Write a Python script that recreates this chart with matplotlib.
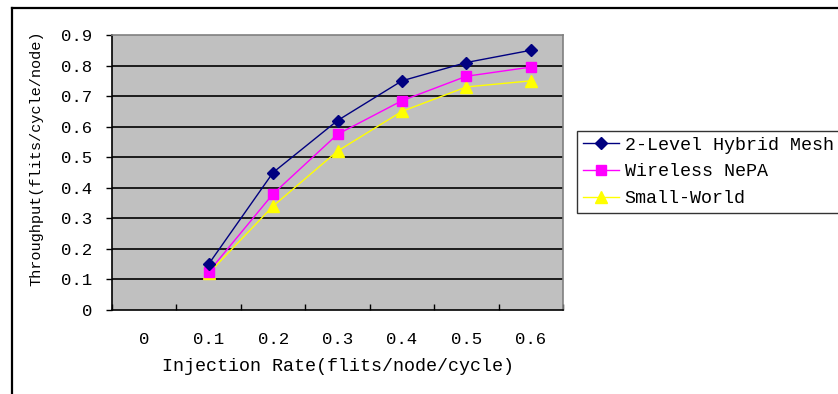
import matplotlib
matplotlib.use("Agg")
import matplotlib.pyplot as plt
from matplotlib.lines import Line2D

categories = ["0", "0.1", "0.2", "0.3", "0.4", "0.5", "0.6"]
x_points = [1, 2, 3, 4, 5, 6]
hybrid_mesh = [0.15, 0.45, 0.62, 0.75, 0.81, 0.85]
wireless_nepa = [0.125, 0.38, 0.575, 0.685, 0.765, 0.795]
small_world = [0.12, 0.34, 0.52, 0.65, 0.73, 0.75]
y_ticks = [0, 0.1, 0.2, 0.3, 0.4, 0.5, 0.6, 0.7, 0.8, 0.9]
y_labels = ["0", "0.1", "0.2", "0.3", "0.4", "0.5", "0.6", "0.7", "0.8", "0.9"]

W, H = 838, 394
fig = plt.figure(figsize=(W / 100, H / 100), dpi=100)
fig.patch.set_facecolor("white")
font = "Liberation Mono"

ax = fig.add_axes([112 / W, 1 - 310 / H, (563 - 112) / W, (310 - 35) / H])
ax.set_facecolor("#C0C0C0")

ax.plot(x_points, hybrid_mesh, color="#000080", marker="D", markersize=6,
        linewidth=1.0, label="2-Level Hybrid Mesh", zorder=5)
ax.plot(x_points, wireless_nepa, color="#FF00FF", marker="s", markersize=7,
        linewidth=1.0, label="Wireless NePA", zorder=4)
ax.plot(x_points, small_world, color="#FFFF00", marker="^", markersize=8,
        linewidth=1.0, label="Small-World", zorder=3)

ax.set_xlim(-0.5, 6.5)
ax.set_ylim(0, 0.9)
ax.set_yticks(y_ticks)
ax.set_yticklabels(y_labels, fontfamily=font, fontsize=12.5)
ax.set_xticks(range(len(categories)))
ax.set_xticklabels(categories, fontfamily=font, fontsize=12.5)
ax.set_xticks([i - 0.5 for i in range(len(categories) + 1)], minor=True)
ax.tick_params(axis="x", which="major", length=0, pad=16)
ax.tick_params(axis="x", which="minor", direction="in", length=4, width=1)
ax.tick_params(axis="y", which="major", direction="out", length=4, width=1, pad=10)

for v in y_ticks[1:-1]:
    ax.axhline(v, color="black", linewidth=1.2, zorder=1)

for side in ["left", "bottom"]:
    ax.spines[side].set_color("black")
    ax.spines[side].set_linewidth(1.2)
for side in ["top", "right"]:
    ax.spines[side].set_color("#808080")
    ax.spines[side].set_linewidth(1.2)

ax.set_xlabel("Injection Rate(flits/node/cycle)", fontfamily=font, fontsize=13.2, labelpad=8)
ax.set_ylabel("Throughput(flits/cycle/node)", fontfamily=font, fontsize=11)
ax.yaxis.set_label_coords(-0.153, 0.553)

leg = fig.legend(loc="upper left", bbox_to_anchor=(577 / W, 1 - 131 / H),
                 prop={"family": font, "size": 13.2}, frameon=True, fancybox=False,
                 edgecolor="black", borderpad=0.3, labelspacing=0.54,
                 handlelength=2.0, handletextpad=0.3, borderaxespad=0)
leg.get_frame().set_linewidth(1.0)

fig.add_artist(Line2D([11.5 / W, 11.5 / W], [0, 1 - 7.5 / H], color="black",
                      linewidth=1.6, transform=fig.transFigure))
fig.add_artist(Line2D([11.5 / W, 1], [1 - 7.5 / H, 1 - 7.5 / H], color="black",
                      linewidth=1.6, transform=fig.transFigure))

fig.savefig("out.png", dpi=100)
